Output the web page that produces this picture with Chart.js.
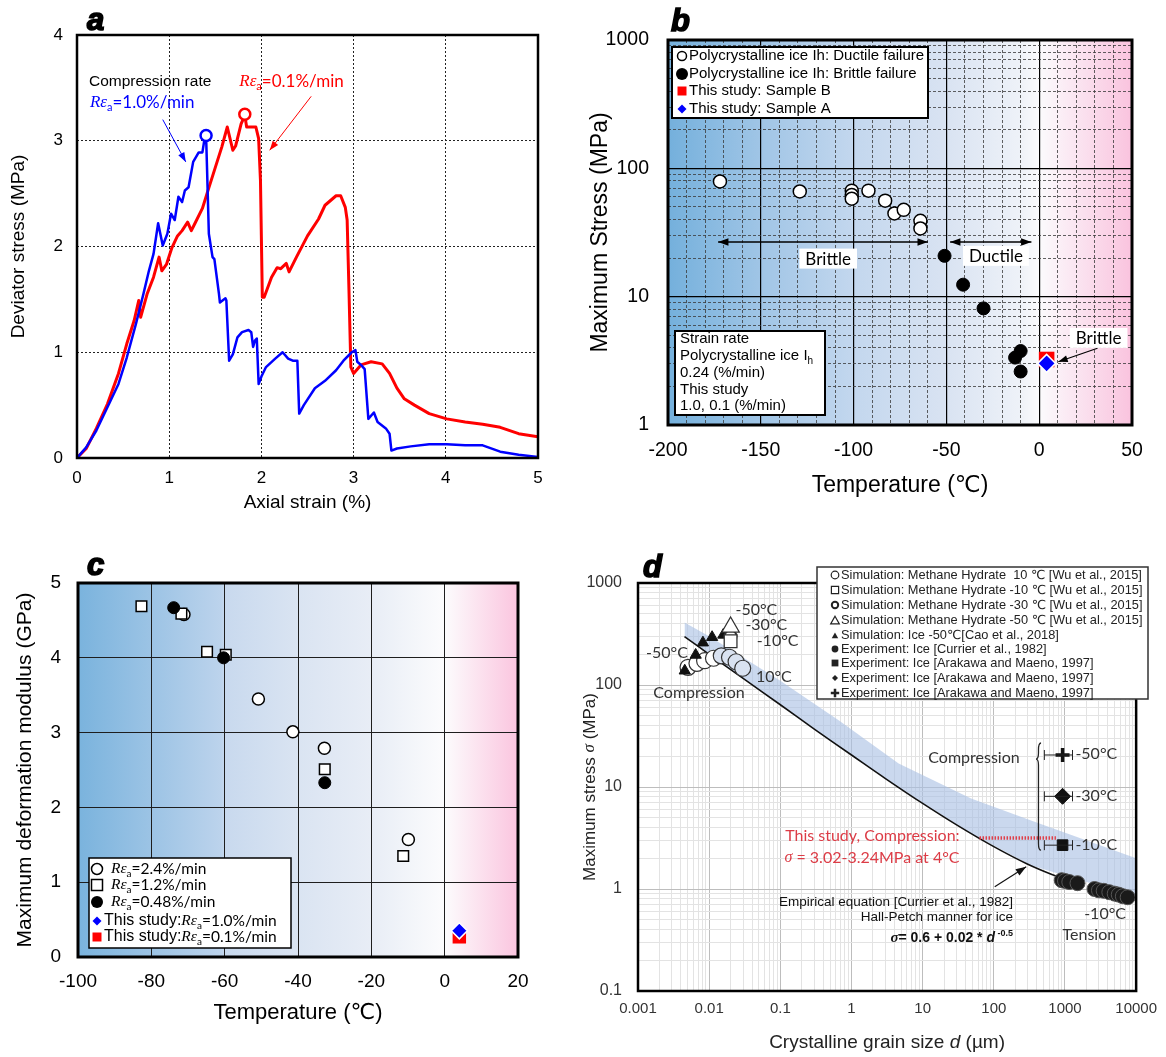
<!DOCTYPE html>
<html>
<head>
<meta charset="utf-8">
<title>Ice strength figure</title>
<script src="https://cdn.jsdelivr.net/npm/chart.js@4"></script>
<style>
  html, body { margin: 0; padding: 0; background: #fff; }
  #page { position: relative; width: 1166px; height: 1057px; overflow: hidden; }
  canvas { position: absolute; }
</style>
</head>
<body>
<div id="page">
  <canvas id="chartA" width="583" height="520" style="left:0;top:0"></canvas>
  <canvas id="chartB" width="583" height="520" style="left:583px;top:0"></canvas>
  <canvas id="chartC" width="583" height="517" style="left:0;top:540px"></canvas>
  <canvas id="chartD" width="596" height="517" style="left:570px;top:540px"></canvas>
</div>
<script>
const SANS = '"Liberation Sans", Arial, "DejaVu Sans", sans-serif';
const SERIF = '"Liberation Serif", "DejaVu Serif", serif';
const CAL = 'Lato, "Open Sans", sans-serif';

// ---- a: stress-strain curves ----
const aStrainTicks = [0, 1, 2, 3, 4, 5];
const aStrainLabels = ['0', '1', '2', '3', '4', '5'];
const aStressTicks = [0, 1, 2, 3, 4];
const aStressLabels = ['0', '1', '2', '3', '4'];
const aRateLabels = ['1.0', '0.1'];
const fastStrain = [0, 0.10, 0.21, 0.33, 0.45, 0.54, 0.64, 0.72, 0.78, 0.83, 0.88, 0.93, 0.98, 1.02, 1.06, 1.10, 1.14, 1.17, 1.21, 1.26,
  1.32, 1.36, 1.38, 1.40, 1.41, 1.43, 1.47, 1.49, 1.54, 1.55, 1.61, 1.62, 1.65, 1.69, 1.74, 1.79, 1.86, 1.89, 1.91, 1.93,
  1.95, 1.97, 2.00, 2.05, 2.15, 2.23, 2.29, 2.34, 2.39, 2.41, 2.46, 2.58, 2.69, 2.81, 2.89, 2.98, 3.02, 3.04, 3.08, 3.12,
  3.16, 3.22, 3.26, 3.35, 3.39, 3.41, 3.47, 3.62, 3.82, 4.01, 4.21, 4.40, 4.59, 4.79, 5.0];
const fastStress = [0, 0.10, 0.26, 0.48, 0.70, 0.95, 1.27, 1.55, 1.77, 1.93, 2.22, 2.01, 2.12, 2.31, 2.25, 2.47, 2.42, 2.53, 2.56, 2.80,
  2.89, 2.89, 3.00, 3.05, 2.75, 2.12, 1.90, 1.88, 1.55, 1.47, 1.51, 1.49, 0.92, 0.98, 1.14, 1.19, 1.21, 1.19, 1.05, 1.11,
  1.13, 0.70, 0.77, 0.86, 0.94, 1.00, 0.94, 0.92, 0.92, 0.42, 0.50, 0.66, 0.73, 0.83, 0.92, 1.00, 1.02, 0.91, 0.88, 0.84,
  0.37, 0.43, 0.34, 0.28, 0.23, 0.07, 0.09, 0.11, 0.13, 0.13, 0.12, 0.12, 0.06, 0.03, 0.01];
const slowStrain = [0, 0.10, 0.21, 0.33, 0.45, 0.54, 0.62, 0.67, 0.69, 0.76, 0.83, 0.89, 0.92, 0.97, 1.03, 1.09, 1.14, 1.20, 1.24, 1.28,
  1.36, 1.41, 1.49, 1.57, 1.63, 1.69, 1.72, 1.78, 1.82, 1.84, 1.94, 1.97, 1.99, 2.01, 2.03, 2.11, 2.17, 2.21, 2.27, 2.30,
  2.38, 2.50, 2.62, 2.69, 2.81, 2.86, 2.91, 2.93, 2.95, 2.97, 3.00, 3.08, 3.19, 3.31, 3.39, 3.47, 3.55, 3.66, 3.82, 4.01,
  4.21, 4.40, 4.59, 4.79, 5.0];
const slowStress = [0, 0.09, 0.28, 0.51, 0.80, 1.08, 1.30, 1.49, 1.33, 1.55, 1.71, 1.90, 1.77, 1.83, 1.99, 2.10, 2.15, 2.23, 2.15, 2.22,
  2.36, 2.50, 2.72, 2.94, 3.13, 2.91, 2.95, 3.16, 3.24, 3.13, 3.13, 3.02, 2.62, 1.52, 1.52, 1.71, 1.80, 1.79, 1.84, 1.76,
  1.90, 2.10, 2.26, 2.39, 2.48, 2.48, 2.37, 2.25, 1.58, 0.86, 0.80, 0.88, 0.91, 0.89, 0.80, 0.66, 0.56, 0.50, 0.42, 0.37,
  0.34, 0.32, 0.29, 0.23, 0.20];
const fastPeakStrain = [1.40];
const fastPeakStress = [3.05];
const slowPeakStrain = [1.82];
const slowPeakStress = [3.25];

// ---- b: max stress vs temperature ----
const bTempTicks = [-200, -150, -100, -50, 0, 50];
const bTempLabels = ['-200', '-150', '-100', '-50', '0', '50'];
const bStressTicks = [1, 10, 100, 1000];
const bStressLabels = ['1', '10', '100', '1000'];
const ductileTemp = [-172, -129, -101, -101, -101, -92, -83, -78, -73, -64, -64];
const ductileStress = [79, 66, 67, 62, 58, 67, 56, 44.5, 47.5, 39, 34];
const brittleTemp = [-51, -41, -30, -13, -10, -10];
const brittleStress = [20.8, 12.4, 8.1, 3.35, 3.77, 2.61];
const sampleBTemp = [4];
const sampleBStress = [3.24];
const sampleATemp = [4];
const sampleAStress = [3.02];
const bLegendLabels = ['Polycrystalline ice Ih: Ductile failure', 'Polycrystalline ice Ih: Brittle failure',
  'This study: Sample B', 'This study: Sample A'];

// ---- c: deformation modulus vs temperature ----
const cTempTicks = [-100, -80, -60, -40, -20, 0, 20];
const cTempLabels = ['-100', '-80', '-60', '-40', '-20', '0', '20'];
const cModTicks = [0, 1, 2, 3, 4, 5];
const cModLabels = ['0', '1', '2', '3', '4', '5'];
const rate24Temp = [-71.1, -50.8, -41.4, -32.8, -9.9];
const rate24Mod = [4.58, 3.45, 3.01, 2.79, 1.57];
const rate12Temp = [-82.7, -71.8, -64.8, -59.7, -32.7, -11.3];
const rate12Mod = [4.69, 4.59, 4.08, 4.04, 2.51, 1.35];
const rate048Temp = [-73.9, -60.3, -32.7];
const rate048Mod = [4.67, 4.0, 2.33];
const studyATemp = [4];
const studyAMod = [0.35];
const studyBTemp = [4];
const studyBMod = [0.27];
const cRateLabels = ['2.4', '1.2', '0.48', '1.0', '0.1'];

// ---- d: Hall-Petch plot ----
const dGrainTicks = [0.001, 0.01, 0.1, 1, 10, 100, 1000, 10000];
const dGrainLabels = ['0.001', '0.01', '0.1', '1', '10', '100', '1000', '10000'];
const dStressTicks = [0.1, 1, 10, 100, 1000];
const dStressLabels = ['0.1', '1', '10', '100', '1000'];
const bandD = [0.0045, 0.01, 0.1, 0.66, 4.6, 48, 334, 10000];
const bandHigh = [410, 300, 110, 45, 17, 7.7, 4.7, 2.0];
const bandLow = [298, 200, 64, 25, 9.9, 3.5, 1.7, 0.84];
const curveD = [0.0045, 0.01, 0.03, 0.1, 0.3, 1, 3, 10, 30, 100, 300, 1000];
const curveS = [298, 200, 116, 64, 37, 20.6, 12.1, 6.9, 4.25, 2.6, 1.75, 1.23];
const mh10D = [0.00505, 0.00674, 0.00863, 0.0115, 0.0148, 0.0193, 0.0239, 0.0296];
const mh10S = [149, 163, 173, 183, 193, 187, 169, 146];
const mhm10D = [0.02];
const mhm10S = [268];
const mhm30D = [0.02];
const mhm30S = [300];
const mhm50D = [0.02];
const mhm50S = [370];
const caoD = [0.00454, 0.00646, 0.00817, 0.011, 0.0158];
const caoS = [138, 197, 260, 294, 310];
const tensionD = [900, 1000, 1150, 1500, 2600, 3000, 3500, 4200, 5000, 5700, 6500, 7600];
const tensionS = [1.22, 1.2, 1.17, 1.14, 1.0, 0.97, 0.96, 0.93, 0.9, 0.88, 0.85, 0.83];
const arakawaD = [925, 925, 925];          // -50, -30, -10 degC
const arakawaS = [20.6, 8.1, 2.69];
const arakawaLo = [513, 513, 513];
const arakawaHi = [1276, 1276, 1276];
const studyRangeD = [63, 746];
const studyRangeS = [3.16, 3.16];
const dLegendLabels = [
  'Simulation: Methane Hydrate  10 ℃ [Wu et al., 2015]',
  'Simulation: Methane Hydrate -10 ℃ [Wu et al., 2015]',
  'Simulation: Methane Hydrate -30 ℃ [Wu et al., 2015]',
  'Simulation: Methane Hydrate -50 ℃ [Wu et al., 2015]',
  'Simulation: Ice -50℃[Cao et al., 2018]',
  'Experiment: Ice [Currier et al., 1982]',
  'Experiment: Ice [Arakawa and Maeno, 1997]',
  'Experiment: Ice [Arakawa and Maeno, 1997]',
  'Experiment: Ice [Arakawa and Maeno, 1997]'];

Chart.defaults.font.family = SANS;
Chart.defaults.color = '#000';

// ---------- helpers ----------
const pts = (xs, ys) => xs.map((x, i) => ({ x: x, y: ys[i] }));
const isPow10 = v => Math.abs(Math.log10(v) - Math.round(Math.log10(v))) < 1e-9;

function labelFrom(values, labels, v) {
  const i = values.findIndex(t => Math.abs(t - v) <= Math.abs(t) * 1e-6 + 1e-12);
  return i < 0 ? '' : labels[i];
}

// minor ticks 1..9 per decade between the given powers of ten
function logTicks(powers) {
  const out = [];
  powers.forEach((p, i) => {
    if (i === powers.length - 1) { out.push({ value: p }); return; }
    for (let m = 1; m < 10; m++) out.push({ value: +(p * m).toPrecision(6) });
  });
  return out;
}

function xy(chart, x, y) {
  return [chart.scales.x.getPixelForValue(x), chart.scales.y.getPixelForValue(y)];
}

function drawRich(ctx, segs, x, y, align) {
  ctx.save();
  ctx.textBaseline = 'middle';
  ctx.textAlign = 'left';
  let w = 0;
  segs.forEach(s => { ctx.font = s.f; w += ctx.measureText(s.t).width; });
  let cx = align === 'right' ? x - w : (align === 'center' ? x - w / 2 : x);
  segs.forEach(s => {
    ctx.font = s.f;
    ctx.fillStyle = s.c || '#000';
    ctx.fillText(s.t, cx, y + (s.dy || 0));
    cx += ctx.measureText(s.t).width;
  });
  ctx.restore();
  return w;
}

function rateSegs(rate, size, color) {
  return [
    { t: 'R', f: `italic ${size}px ${SERIF}`, c: color },
    { t: 'ε', f: `italic ${size}px ${SERIF}`, c: color },
    { t: 'a', f: `${Math.round(size * 0.62)}px ${CAL}`, c: color, dy: size * 0.3 },
    { t: '=' + rate + '%/min', f: `${size}px ${CAL}`, c: color }
  ];
}

function arrow(ctx, x1, y1, x2, y2, color, lw, head, both) {
  ctx.save();
  ctx.strokeStyle = color;
  ctx.fillStyle = color;
  ctx.lineWidth = lw;
  ctx.beginPath(); ctx.moveTo(x1, y1); ctx.lineTo(x2, y2); ctx.stroke();
  const tip = (ax, ay, bx, by) => {
    const a = Math.atan2(by - ay, bx - ax);
    ctx.beginPath();
    ctx.moveTo(bx, by);
    ctx.lineTo(bx - head * Math.cos(a - 0.35), by - head * Math.sin(a - 0.35));
    ctx.lineTo(bx - head * Math.cos(a + 0.35), by - head * Math.sin(a + 0.35));
    ctx.closePath();
    ctx.fill();
  };
  tip(x1, y1, x2, y2);
  if (both) tip(x2, y2, x1, y1);
  ctx.restore();
}

function marker(ctx, type, x, y, r, fill, stroke, lw) {
  ctx.save();
  ctx.beginPath();
  if (type === 'circle') ctx.arc(x, y, r, 0, Math.PI * 2);
  else if (type === 'square') ctx.rect(x - r, y - r, 2 * r, 2 * r);
  else if (type === 'diamond') { ctx.moveTo(x, y - r); ctx.lineTo(x + r, y); ctx.lineTo(x, y + r); ctx.lineTo(x - r, y); ctx.closePath(); }
  else if (type === 'triangle') { ctx.moveTo(x, y - r); ctx.lineTo(x + r * 0.9, y + r * 0.6); ctx.lineTo(x - r * 0.9, y + r * 0.6); ctx.closePath(); }
  else if (type === 'plus') { ctx.rect(x - r, y - r * 0.3, 2 * r, r * 0.6); ctx.rect(x - r * 0.3, y - r, r * 0.6, 2 * r); }
  if (fill) { ctx.fillStyle = fill; ctx.fill(); }
  if (stroke) { ctx.strokeStyle = stroke; ctx.lineWidth = lw || 1; ctx.stroke(); }
  ctx.restore();
}

function whiteBox(ctx, x, y, w, h, lw, stroke) {
  ctx.save();
  ctx.fillStyle = '#fff';
  ctx.fillRect(x, y, w, h);
  if (lw) { ctx.lineWidth = lw; ctx.strokeStyle = stroke || '#000'; ctx.strokeRect(x, y, w, h); }
  ctx.restore();
}

function labelBox(ctx, text, x, y, font) {
  ctx.save();
  ctx.font = font;
  const w = ctx.measureText(text).width;
  whiteBox(ctx, x - w / 2 - 6, y - 10, w + 12, 20, 0);
  ctx.fillStyle = '#000';
  ctx.textAlign = 'center';
  ctx.textBaseline = 'middle';
  ctx.fillText(text, x, y + 1);
  ctx.restore();
}

const frame = lw => ({
  id: 'frame',
  afterDatasetsDraw(chart) {
    const { ctx, chartArea: a } = chart;
    ctx.save();
    ctx.strokeStyle = '#000';
    ctx.lineWidth = lw;
    ctx.strokeRect(a.left, a.top, a.right - a.left, a.bottom - a.top);
    ctx.restore();
  }
});

const gradientBg = stops => ({
  id: 'gradientBg',
  beforeDraw(chart) {
    const { ctx, chartArea: a, scales } = chart;
    const g = ctx.createLinearGradient(a.left, 0, a.right, 0);
    stops.forEach(s => {
      const p = (scales.x.getPixelForValue(s[0]) - a.left) / (a.right - a.left);
      g.addColorStop(Math.min(1, Math.max(0, p)), s[1]);
    });
    ctx.save();
    ctx.fillStyle = g;
    ctx.fillRect(a.left, a.top, a.right - a.left, a.bottom - a.top);
    ctx.restore();
  }
});

const panelLabel = (t, x, y) => ({
  id: 'panelLabel',
  afterDraw(chart) {
    const ctx = chart.ctx;
    ctx.save();
    ctx.font = `italic bold 31px ${SANS}`;
    ctx.fillStyle = '#000';
    ctx.strokeStyle = '#000';
    ctx.lineWidth = 1.6;
    ctx.fillText(t, x, y);
    ctx.strokeText(t, x, y);
    ctx.restore();
  }
});

function axis(o) {
  return {
    type: o.type || 'linear',
    min: o.min, max: o.max, position: o.position,
    afterBuildTicks: s => { s.ticks = o.ticks(); },
    afterFit: s => { if (o.position === 'left') s.width = o.size; else s.height = o.size; },
    grid: { drawTicks: false, color: o.gridColor, lineWidth: o.gridWidth },
    border: { display: false, dash: o.gridDash || [] },
    ticks: {
      padding: o.pad, color: o.tickColor || '#000', font: { family: SANS, size: o.font },
      maxRotation: 0, autoSkip: false,
      callback: v => labelFrom(o.tickVals, o.tickLabels, v)
    },
    title: o.title
      ? { display: true, text: o.title, color: '#000', font: { family: SANS, size: o.titleSize }, padding: o.titlePad }
      : { display: false }
  };
}

function makeChart(id, datasets, scales, padding, plugins) {
  return new Chart(document.getElementById(id), {
    type: 'scatter',
    data: { datasets: datasets },
    options: {
      responsive: false, animation: false, events: [],
      layout: { padding: padding },
      plugins: { legend: { display: false }, tooltip: { enabled: false } },
      scales: scales
    },
    plugins: plugins
  });
}

function pointSet(xs, ys, style, r, fill, stroke, bw) {
  return { data: pts(xs, ys), showLine: false, pointStyle: style, pointRadius: r,
    pointBackgroundColor: fill, pointBorderColor: stroke, pointBorderWidth: bw };
}

function lineSet(xs, ys, color, w, extra) {
  return Object.assign({ data: pts(xs, ys), showLine: true, borderColor: color, borderWidth: w,
    pointRadius: 0, fill: false, borderJoinStyle: 'round' }, extra || {});
}

// ---------- panel a ----------
const annotA = {
  id: 'annotA',
  afterDraw(chart) {
    const ctx = chart.ctx;
    let p = xy(chart, 0.13, 3.56);
    drawRich(ctx, [{ t: 'Compression rate', f: `15.5px ${SANS}`, c: '#000' }], p[0], p[1], 'left');
    p = xy(chart, 0.14, 3.36);
    drawRich(ctx, rateSegs(aRateLabels[0], 17, '#0000ff'), p[0], p[1], 'left');
    p = xy(chart, 1.76, 3.56);
    drawRich(ctx, rateSegs(aRateLabels[1], 17, '#ff0000'), p[0], p[1], 'left');
    let s = xy(chart, 0.93, 3.20), e = xy(chart, 1.18, 2.80);
    arrow(ctx, s[0], s[1], e[0], e[1], '#0000ff', 1, 10, false);
    s = xy(chart, 2.54, 3.42); e = xy(chart, 2.09, 2.91);
    arrow(ctx, s[0], s[1], e[0], e[1], '#ff0000', 1, 10, false);
  }
};

makeChart('chartA', [
  pointSet(fastPeakStrain, fastPeakStress, 'circle', 5.5, '#fff', '#0000ff', 2.5),
  pointSet(slowPeakStrain, slowPeakStress, 'circle', 5.5, '#fff', '#ff0000', 2.5),
  lineSet(fastStrain, fastStress, '#0000ff', 2.5),
  lineSet(slowStrain, slowStress, '#ff0000', 3)
], {
  x: axis({ min: 0, max: 5, position: 'bottom', size: 62, ticks: () => aStrainTicks.map(v => ({ value: v })),
    tickVals: aStrainTicks, tickLabels: aStrainLabels, gridColor: '#222', gridWidth: 1, gridDash: [2, 2],
    pad: 10, font: 17, title: 'Axial strain (%)', titleSize: 19, titlePad: { top: 0, bottom: 6 } }),
  y: axis({ min: 0, max: 4, position: 'left', size: 77, ticks: () => aStressTicks.map(v => ({ value: v })),
    tickVals: aStressTicks, tickLabels: aStressLabels, gridColor: '#222', gridWidth: 1, gridDash: [2, 2],
    pad: 14, font: 17, title: 'Deviator stress (MPa)', titleSize: 19, titlePad: { top: 7, bottom: 0 } })
}, { left: 0, top: 35, right: 45, bottom: 0 }, [frame(2.5), annotA, panelLabel('a', 87, 30)]);

// ---------- panel b ----------
const bMajorX = v => Math.abs(v % 50) < 1e-9;
const annotB = {
  id: 'annotB',
  afterDraw(chart) {
    const ctx = chart.ctx;
    let s = xy(chart, -173, 26.7), e = xy(chart, -60, 26.7);
    arrow(ctx, s[0], s[1], e[0], e[1], '#000', 1.5, 11, true);
    s = xy(chart, -48, 26.7); e = xy(chart, -4.2, 26.7);
    arrow(ctx, s[0], s[1], e[0], e[1], '#000', 1.5, 11, true);
    const lf = `17px ${CAL}`;
    let p = xy(chart, -113.7, 19.8); labelBox(ctx, 'Brittle', p[0], p[1], lf);
    p = xy(chart, -23.3, 20.8); labelBox(ctx, 'Ductile', p[0], p[1], lf);
    p = xy(chart, 32, 4.77); labelBox(ctx, 'Brittle', p[0], p[1], lf);
    s = xy(chart, 31.4, 3.96); e = xy(chart, 10.3, 3.11);
    arrow(ctx, s[0], s[1], e[0], e[1], '#000', 1.2, 10, false);

    // legend
    whiteBox(ctx, 89, 47, 256, 71, 2);
    const f = `15px ${SANS}`;
    const rows = [56, 74, 91, 109];
    marker(ctx, 'circle', 99, rows[0], 4.5, '#fff', '#000', 1.5);
    marker(ctx, 'circle', 99, rows[1], 6, '#000');
    marker(ctx, 'square', 99, rows[2], 4.5, '#ff0000');
    marker(ctx, 'diamond', 99, rows[3], 4.5, '#0000ff');
    bLegendLabels.forEach((t, i) => drawRich(ctx, [{ t: t, f: f }], 106, rows[i], 'left'));

    // strain-rate note
    whiteBox(ctx, 92, 331, 150, 84, 2);
    const lines = [339, 356, 373, 390, 406];
    drawRich(ctx, [{ t: 'Strain rate', f: f }], 97, lines[0], 'left');
    drawRich(ctx, [{ t: 'Polycrystalline ice I', f: f }, { t: 'h', f: `10px ${SANS}`, dy: 5 }], 97, lines[1], 'left');
    drawRich(ctx, [{ t: '0.24 (%/min)', f: f }], 97, lines[2], 'left');
    drawRich(ctx, [{ t: 'This study', f: f }], 97, lines[3], 'left');
    drawRich(ctx, [{ t: '1.0, 0.1 (%/min)', f: f }], 97, lines[4], 'left');
  }
};

makeChart('chartB', [
  pointSet(sampleATemp, sampleAStress, 'rectRot', 9, '#0000ff', '#fff', 1.5),
  pointSet(sampleBTemp, sampleBStress, 'rect', 11, '#ff0000', '#ff0000', 0),
  pointSet(brittleTemp, brittleStress, 'circle', 6.5, '#000', '#000', 1),
  pointSet(ductileTemp, ductileStress, 'circle', 6.5, '#fff', '#000', 1.5)
], {
  x: axis({ min: -200, max: 50, position: 'bottom', size: 95,
    ticks: () => { const t = []; for (let v = -200; v <= 50; v += 10) t.push({ value: v }); return t; },
    tickVals: bTempTicks, tickLabels: bTempLabels,
    gridColor: c => (c.tick && bMajorX(c.tick.value)) ? '#000' : '#3a3a3a',
    gridWidth: c => (c.tick && bMajorX(c.tick.value)) ? 1.2 : 0.8,
    gridDash: c => (c.tick && bMajorX(c.tick.value)) ? [] : [3, 2],
    pad: 14, font: 19.5, title: 'Temperature (℃)', titleSize: 23, titlePad: { top: 0, bottom: 21 } }),
  y: axis({ type: 'logarithmic', min: 1, max: 1000, position: 'left', size: 85,
    ticks: () => logTicks(bStressTicks), tickVals: bStressTicks, tickLabels: bStressLabels,
    gridColor: c => (c.tick && isPow10(c.tick.value)) ? '#000' : '#3a3a3a',
    gridWidth: c => (c.tick && isPow10(c.tick.value)) ? 1.2 : 0.8,
    gridDash: c => (c.tick && isPow10(c.tick.value)) ? [] : [3, 2],
    pad: 19, font: 19.5, title: 'Maximum Stress (MPa)', titleSize: 23, titlePad: { top: 4, bottom: 0 } })
}, { left: 0, top: 40, right: 34, bottom: 0 }, [
  gradientBg([[-200, '#74b0dc'], [-150, '#a0c5e6'], [-100, '#c3d7ee'], [-50, '#d9e3f2'], [-10, '#eef2f8'], [0, '#fbfbfd'], [50, '#fac3de']]),
  frame(3), annotB, panelLabel('b', 88, 31)]);

// ---------- panel c ----------
const annotC = {
  id: 'annotC',
  afterDraw(chart) {
    const ctx = chart.ctx;
    whiteBox(ctx, 89, 318, 202, 90, 1.5);
    const rows = [329, 345, 362, 381, 397];
    marker(ctx, 'circle', 97, rows[0], 5.5, '#fff', '#000', 1.5);
    marker(ctx, 'square', 97, rows[1], 5.5, '#fff', '#000', 1.5);
    marker(ctx, 'circle', 97, rows[2], 6, '#000');
    marker(ctx, 'diamond', 97, rows[3], 4.5, '#0000ff');
    marker(ctx, 'square', 97, rows[4], 4.5, '#ff0000');
    for (let i = 0; i < 3; i++) drawRich(ctx, rateSegs(cRateLabels[i], 15.5, '#000'), 111, rows[i], 'left');
    for (let i = 3; i < 5; i++) {
      drawRich(ctx, [{ t: 'This study:', f: `16px ${SANS}` }].concat(rateSegs(cRateLabels[i], 15.5, '#000')), 104, rows[i], 'left');
    }
  }
};

makeChart('chartC', [
  pointSet(studyATemp, studyAMod, 'rectRot', 8, '#0000ff', '#fff', 1.5),
  pointSet(studyBTemp, studyBMod, 'rect', 9.5, '#ff0000', '#ff0000', 0),
  pointSet(rate048Temp, rate048Mod, 'circle', 6, '#000', '#000', 1),
  pointSet(rate12Temp, rate12Mod, 'rect', 7.5, '#fff', '#000', 1.5),
  pointSet(rate24Temp, rate24Mod, 'circle', 6, '#fff', '#000', 1.5)
], {
  x: axis({ min: -100, max: 20, position: 'bottom', size: 100, ticks: () => cTempTicks.map(v => ({ value: v })),
    tickVals: cTempTicks, tickLabels: cTempLabels, gridColor: '#1e1e1e', gridWidth: 1,
    pad: 13, font: 19, title: 'Temperature (℃)', titleSize: 22, titlePad: { top: 0, bottom: 31 } }),
  y: axis({ min: 0, max: 5, position: 'left', size: 78, ticks: () => cModTicks.map(v => ({ value: v })),
    tickVals: cModTicks, tickLabels: cModLabels, gridColor: '#1e1e1e', gridWidth: 1,
    pad: 17, font: 19, title: 'Maximum deformation modulus (GPa)', titleSize: 21, titlePad: { top: 13, bottom: 0 } })
}, { left: 0, top: 43, right: 65, bottom: 0 }, [
  gradientBg([[-100, '#7ab3dd'], [-61, '#bcd3ec'], [-60, '#c8d9ee'], [-40, '#dae4f2'], [-20, '#e8edf6'], [0, '#fcfcfd'], [20, '#fbc5df']]),
  frame(3), annotC, panelLabel('c', 87, 35)]);

// ---------- panel d ----------
const annotD = {
  id: 'annotD',
  afterDatasetsDraw(chart) {
    const ctx = chart.ctx;
    ctx.save();
    ctx.strokeStyle = '#222';
    ctx.lineWidth = 1;
    arakawaD.forEach((d, i) => {
      const a = xy(chart, arakawaLo[i], arakawaS[i]);
      const b = xy(chart, arakawaHi[i], arakawaS[i]);
      ctx.beginPath();
      ctx.moveTo(a[0], a[1]); ctx.lineTo(b[0], b[1]);
      ctx.moveTo(a[0], a[1] - 5); ctx.lineTo(a[0], a[1] + 5);
      ctx.moveTo(b[0], b[1] - 5); ctx.lineTo(b[0], b[1] + 5);
      ctx.stroke();
    });
    // brace grouping the compression experiments
    const tip = xy(chart, 392, 18.8), top = xy(chart, 461, 27), bot = xy(chart, 461, 2.4);
    const sx = chart.scales.x.getPixelForValue(424);
    ctx.lineWidth = 1.3;
    ctx.beginPath();
    ctx.moveTo(top[0], top[1]);
    ctx.quadraticCurveTo(sx, top[1], sx, top[1] + 7);
    ctx.lineTo(sx, tip[1] - 6);
    ctx.quadraticCurveTo(sx, tip[1], tip[0], tip[1]);
    ctx.quadraticCurveTo(sx, tip[1], sx, tip[1] + 6);
    ctx.lineTo(sx, bot[1] - 7);
    ctx.quadraticCurveTo(sx, bot[1], bot[0], bot[1]);
    ctx.stroke();
    ctx.restore();
    const s = xy(chart, 103, 1.05), e = xy(chart, 285, 1.65);
    arrow(ctx, s[0], s[1], e[0], e[1], '#111', 1.2, 11, false);
  },
  afterDraw(chart) {
    const ctx = chart.ctx;
    const f = `16px ${CAL}`, g = '#333';
    const put = (t, x, y, align, font, color) => { const p = xy(chart, x, y); drawRich(ctx, [{ t: t, f: font || f, c: color || g }], p[0], p[1], align || 'left'); };
    put('-50°C', 0.0234, 545); put('-30°C', 0.0323, 388); put('-10°C', 0.0465, 272);
    put('-50°C', 0.0013, 207); put('10°C', 0.0454, 120); put('Compression', 0.00164, 84);
    put('Compression', 12, 19.5); put('-50°C', 1400, 21); put('-30°C', 1400, 8.1); put('-10°C', 1400, 2.7);
    put('-10°C', 1860, 0.575); put('Tension', 925, 0.352);
    const red = '#dc3c46';
    put('This study, Compression:', 33, 3.3, 'right', f, red);
    let p = xy(chart, 33, 2.0);
    drawRich(ctx, [{ t: 'σ', f: `italic 16px ${SERIF}`, c: red }, { t: ' = 3.02-3.24MPa at 4°C', f: f, c: red }], p[0], p[1], 'right');
    const af = `13.5px ${SANS}`;
    put('Empirical equation [Currier et al., 1982]', 186, 0.747, 'right', af, '#111');
    put('Hall-Petch manner for ice', 186, 0.525, 'right', af, '#111');
    p = xy(chart, 186, 0.327);
    drawRich(ctx, [
      { t: 'σ', f: `italic bold 15px ${SERIF}`, c: '#111' },
      { t: '= 0.6 + 0.02 * ', f: `bold 14px ${SANS}`, c: '#111' },
      { t: 'd', f: `italic bold 14px ${SANS}`, c: '#111' },
      { t: ' -0.5', f: `bold 9px ${SANS}`, c: '#111', dy: -5 }], p[0], p[1], 'right');

    // axis titles
    const a = chart.chartArea;
    drawRich(ctx, [{ t: 'Crystalline grain size ', f: `19px ${SANS}`, c: '#222' }, { t: 'd', f: `italic 19px ${SANS}`, c: '#222' },
      { t: ' (µm)', f: `19px ${SANS}`, c: '#222' }], (a.left + a.right) / 2, 503, 'center');
    ctx.save();
    ctx.translate(20, (a.top + a.bottom) / 2);
    ctx.rotate(-Math.PI / 2);
    drawRich(ctx, [{ t: 'Maximum stress ', f: `17px ${SANS}`, c: '#222' }, { t: 'σ', f: `italic 17px ${SERIF}`, c: '#222' },
      { t: ' (MPa)', f: `17px ${SANS}`, c: '#222' }], 0, 0, 'center');
    ctx.restore();

    // legend
    whiteBox(ctx, 247, 27, 331, 132, 1.5, '#333');
    const rows = [35, 50, 65, 80, 95, 109, 123, 138, 153];
    const mx = 265;
    marker(ctx, 'circle', mx, rows[0], 3.8, '#fff', '#222', 1.2);
    marker(ctx, 'square', mx, rows[1], 3.6, '#fff', '#222', 1.2);
    marker(ctx, 'circle', mx, rows[2], 3.2, '#fff', '#222', 2);
    marker(ctx, 'triangle', mx, rows[3] + 1, 4.8, '#fff', '#222', 1.2);
    marker(ctx, 'triangle', mx, rows[4] + 1, 3.6, '#222');
    marker(ctx, 'circle', mx, rows[5], 3.4, '#222');
    marker(ctx, 'square', mx, rows[6], 3.4, '#222');
    marker(ctx, 'diamond', mx, rows[7], 3, '#222');
    marker(ctx, 'plus', mx, rows[8], 4.2, '#222');
    dLegendLabels.forEach((t, i) => drawRich(ctx, [{ t: t, f: `12.8px ${SANS}`, c: '#222' }], 271, rows[i], 'left'));
  }
};

const mh10Fill = mh10D.map((d, i) => i < 4 ? '#ffffff' : '#d9e2f1');

makeChart('chartD', [
  pointSet([arakawaD[0]], [arakawaS[0]], 'cross', 7, '#111', '#111', 3.5),
  pointSet([arakawaD[1]], [arakawaS[1]], 'rectRot', 8, '#111', '#111', 1),
  pointSet([arakawaD[2]], [arakawaS[2]], 'rect', 7.5, '#111', '#111', 1),
  pointSet(tensionD, tensionS, 'circle', 7.5, '#1a1a1a', '#555', 1),
  pointSet(mhm50D, mhm50S, 'triangle', 10, '#fff', '#333', 1.3),
  pointSet(mhm10D, mhm10S, 'rect', 9, '#fff', '#333', 1.3),
  pointSet(mhm30D, mhm30S, 'circle', 6, '#fff', '#333', 2),
  pointSet(caoD, caoS, 'triangle', 6.5, '#111', '#111', 1),
  pointSet(mh10D, mh10S, 'circle', 8, mh10Fill, '#333', 1.2),
  lineSet(studyRangeD, studyRangeS, '#e0404a', 3.5, { borderDash: [1.5, 1.5] }),
  lineSet(curveD, curveS, '#111', 1.6, { tension: 0.4 }),
  lineSet(bandD, bandLow, 'rgba(0,0,0,0)', 0),
  lineSet(bandD, bandHigh, 'rgba(0,0,0,0)', 0, { fill: '-1', backgroundColor: 'rgba(170,192,228,0.62)' })
], {
  x: axis({ type: 'logarithmic', min: 0.001, max: 10000, position: 'bottom', size: 66,
    ticks: () => logTicks(dGrainTicks), tickVals: dGrainTicks, tickLabels: dGrainLabels, tickColor: '#333',
    gridColor: c => (c.tick && isPow10(c.tick.value)) ? '#bdbdbd' : '#e3e3e3', gridWidth: 1,
    pad: 9, font: 15 }),
  y: axis({ type: 'logarithmic', min: 0.1, max: 1000, position: 'left', size: 68,
    ticks: () => logTicks(dStressTicks), tickVals: dStressTicks, tickLabels: dStressLabels, tickColor: '#333',
    gridColor: c => (c.tick && isPow10(c.tick.value)) ? '#bdbdbd' : '#e3e3e3', gridWidth: 1,
    pad: 16, font: 16 })
}, { left: 0, top: 43, right: 27, bottom: 0 }, [frame(2.5), annotD, panelLabel('d', 73, 37)]);
</script>
</body>
</html>
